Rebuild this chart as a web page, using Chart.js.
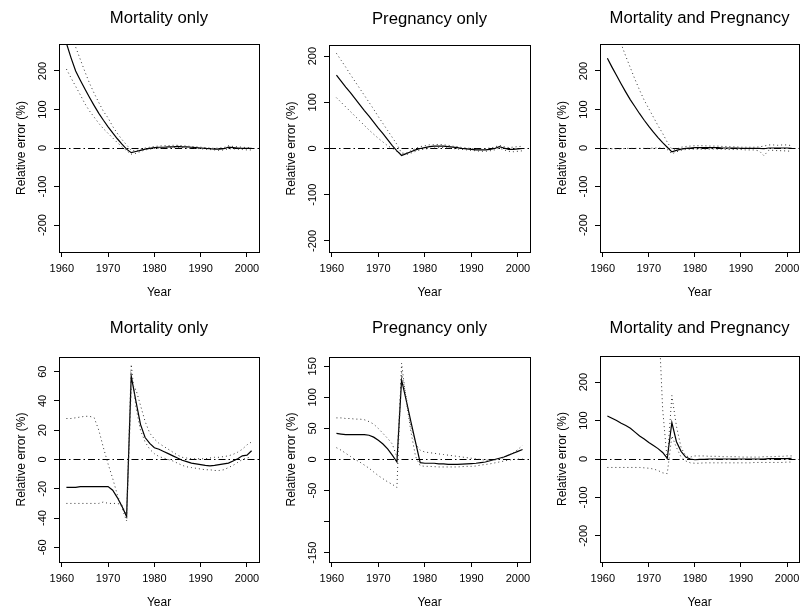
<!DOCTYPE html>
<html>
<head>
<meta charset="utf-8">
<script src="https://cdn.jsdelivr.net/npm/chart.js@4.4.0/dist/chart.umd.min.js"></script>
<style>
  html, body { margin: 0; padding: 0; background: #fff; width: 800px; height: 611px; overflow: hidden; }
  .pane { position: absolute; }
</style>
</head>
<body>
<script>
// years of the series
const years = [1961,1962,1963,1964,1965,1966,1967,1968,1969,1970,
               1971,1972,1973,1974,1975,1976,1977,1978,1979,1980,
               1981,1982,1983,1984,1985,1986,1987,1988,1989,1990,
               1991,1992,1993,1994,1995,1996,1997,1998,1999,2000,2001];

const titles = ['Mortality only', 'Pregnancy only', 'Mortality and Pregnancy',
                'Mortality only', 'Pregnancy only', 'Mortality and Pregnancy'];

// solid line (estimate)
const main1 = [272,234,200,176,153,131,110,90,72,55, 39,24,10,-3,-12,-9,-6,-3,-1,1, 2,2,3,3,4,3,3,2,1,0, -1,-2,-3,-3,-2,2,1,0,-1,-1, -1];
const main2 = [159,146,133,121,108,95,82,70,57,44, 32,19,6,-5,-15,-11,-7,-3,0,2, 4,5,5,5,4,3,2,0,-1,-2, -3,-3,-3,-2,0,4,1,-2,-2,-1, 0];
const main3 = [233,210,188,166,145,125,107,89,72,56, 41,27,14,2,-10,-6,-3,-1,0,1, 1,1,1,1,1,0,0,0,0,-1, -1,-1,-1,-1,-2,0,0,0,0,0, -1];
const main4 = [-19,-19,-19,-18.5,-18.5,-18.5,-18.5,-18.5,-18.5,-18.5, -21,-26,-32,-39,57,40,24,15,11,8, 7,5.5,4,2.5,1,-0.5,-1.5,-2.5,-3,-3.5, -4,-4.3,-4,-3.5,-3,-2.5,-1,0.5,2.5,3, 6];
const main5 = [42,41,40,40,40,40,40,39,36,31, 25,17,7,-4,128,95,61,28,-5,-6, -6,-6,-7,-7,-8,-8,-8,-7.5,-7,-6.5, -6,-5,-4,-2,0,2,4,7,10,13, 16];
const main6 = [112,106,100,93,87,80,70,60,52,43, 35,27,17,2,95,45,20,5,0,-2, -1,-1,0,0,0,0,0,0,0,0, 0,0,0,0,0,1,1,1,1,1, 2];

// upper dotted band
const upper1 = [330,290,262,230,198,168,142,118,95,78, 56,38,22,8,-6,-8,-3,0,2,4, 5,6,6,7,7,6,5,4,3,2, 1,0,-1,0,1,6,4,3,2,1, 1];
const upper2 = [206,191,176,160,145,130,115,100,85,69, 54,39,24,9,-10,-10,-5,0,4,6, 8,8,9,8,7,5,4,2,1,0, -1,-1,0,1,3,7,4,2,3,4, 5];
const upper3 = [370,335,302,270,238,208,178,150,124,102, 80,58,38,15,-3,-3,2,4,5,6, 6,6,5,5,5,4,4,3,3,2, 2,2,2,3,5,8,8,7,8,8, 6];
const upper4 = [28,28,28.5,29,29.5,29.5,28.5,20,8,-3, -13,-24,-33,-42,48,48,37,26,18,14, 11,9,7,5,3,1.5,1,0.5,0.5,0.5, 0.5,1,1.5,1.5,2,2.5,3.5,5,7,10, 12];
const upper5 = [67,67,66,66,65,65,64,61,57,50, 42,34,25,4,140,100,52,25,15,12, 11,10,9,8,7,6,5,4,3,2, 1,0,-1,-1.5,-1,1,3,7,11,16, 23];
const upper6 = [900,860,820,780,740,700,660,620,580,520, 470,400,130,-5,165,85,30,8,5,8, 8,8,7,7,7,6,6,6,6,5, 5,5,5,5,6,6,6,7,7,8, 8];

// lower dotted band
const lower1 = [205,182,160,138,115,96,80,64,50,38, 26,14,3,-7,-16,-14,-9,-5,-3,-1, 0,0,1,1,1,1,0,0,-1,-2, -3,-4,-5,-6,-5,-2,-2,-3,-4,-5, -5];
const lower2 = [110,100,90,80,70,60,50,40,31,22, 14,6,0,-6,-12,-13,-10,-6,-3,-1, 0,1,2,2,1,0,-1,-2,-3,-4, -5,-6,-6,-5,-3,1,-3,-6,-7,-6, -5];
const lower3 = [-2,-2,-2,-2,-1,-1,-1,-1,-1,-1, 0,0,0,-4,-15,-10,-6,-4,-3,-3, -3,-3,-3,-3,-3,-3,-4,-4,-4,-4, -5,-5,-5,-8,-20,-6,-6,-7,-7,-8, -8];
const lower4 = [-30,-30,-30,-30,-30,-30,-30,-30,-29,-30, -30,-30,-31,-38,65,36,20,12,7,4, 2,1,0,-1,-2.5,-4,-5,-5.5,-6,-6.5, -7,-7,-7.5,-7.5,-7,-5.5,-4,-2,0,1, 2];
const lower5 = [19,15,10,5,0,-4,-9,-14,-20,-26, -31,-36,-40,-45,155,95,45,5,-10,-11, -11,-11.5,-12,-12,-12,-12,-12,-11.5,-11,-11, -10.5,-9,-8,-7,-5.5,-4,-2.5,-1,0,0.5, 1];
const lower6 = [-22,-22,-22,-22,-22,-22,-22,-22,-23,-24, -26,-30,-36,-38,60,30,5,-5,-10,-11, -11,-10,-10,-10,-10,-10,-10,-10,-10,-10, -10,-10,-9,-9,-9,-9,-9,-9,-9,-8, -8];

const mains = [main1, main2, main3, main4, main5, main6];
const uppers = [upper1, upper2, upper3, upper4, upper5, upper6];
const lowers = [lower1, lower2, lower3, lower4, lower5, lower6];

// axis limits and tick labels
const xMin = 1959.4, xMax = 2002.6;
const xTicks = [1960, 1970, 1980, 1990, 2000];
const yLimits = [270, 224, 270, 70, 165, 268];
const yTicks1 = [-200, -100, 0, 100, 200];
const yTicks4 = [-60, -40, -20, 0, 20, 40, 60];
const yTicks5 = [-150, -100, -50, 0, 50, 100, 150];
const yTicks = [yTicks1, yTicks1, yTicks1, yTicks4, yTicks5, yTicks1];
const hiddenYLabels = [[], [], [], [], [-100], []];
const refValue = 0;

// plot boxes in the page
const panels = [
  {x: 59,  y: 44,  w: 200, h: 208, gap: 25.5},
  {x: 329, y: 45,  w: 201, h: 207, gap: 26},
  {x: 600, y: 44,  w: 199, h: 208, gap: 25.5},
  {x: 59,  y: 357, w: 200, h: 205, gap: 28.5},
  {x: 329, y: 357, w: 201, h: 205, gap: 28.5},
  {x: 600, y: 356, w: 199, h: 206, gap: 28}
];

const FONT = '"Liberation Sans", Arial, Helvetica, sans-serif';
const TITLE_SIZE = 16.7;
const L = 60, T = 45, R = 6, B = 60;

const boxPlugin = {
  id: 'box',
  afterDraw(chart) {
    const {ctx, chartArea: a} = chart;
    const al = v => Math.round(v - 0.5) + 0.5;
    ctx.save();
    ctx.strokeStyle = '#000';
    ctx.lineWidth = 1;
    ctx.strokeRect(al(a.left), al(a.top), al(a.right) - al(a.left), al(a.bottom) - al(a.top));
    ctx.restore();
  }
};

const refLinePlugin = {
  id: 'refLine',
  beforeDatasetsDraw(chart) {
    const {ctx, chartArea: a, scales} = chart;
    const y = Math.round(scales.y.getPixelForValue(refValue) - 0.5) + 0.5;
    ctx.save();
    ctx.strokeStyle = '#000';
    ctx.lineWidth = 1;
    ctx.setLineDash([7, 3, 1.5, 3]);
    ctx.beginPath();
    ctx.moveTo(a.left, y);
    ctx.lineTo(a.right, y);
    ctx.stroke();
    ctx.restore();
  }
};

const measure = document.createElement('canvas').getContext('2d');
measure.font = '11px ' + FONT;

function series(vals) {
  return years.map((yr, k) => ({x: yr, y: vals[k]}));
}

panels.forEach((p, i) => {
  const cw = L + p.w + R, chh = T + p.h + B;
  const div = document.createElement('div');
  div.className = 'pane';
  div.style.left = (p.x - L) + 'px';
  div.style.top = (p.y - T) + 'px';
  div.style.width = cw + 'px';
  div.style.height = chh + 'px';
  const cv = document.createElement('canvas');
  cv.width = cw;
  cv.height = chh;
  div.appendChild(cv);
  document.body.appendChild(div);

  const lim = yLimits[i];
  // widest y label, to centre the rotated labels 16.5px left of the axis
  let widest = 0;
  yTicks[i].forEach(v => { widest = Math.max(widest, measure.measureText(String(v)).width); });
  const yPad = 11.5 - widest / 2;

  const dotted = {borderColor: '#333', borderWidth: 1, borderDash: [1, 3], pointRadius: 0, tension: 0, fill: false};
  const half = TITLE_SIZE * 1.2 / 2;

  new Chart(cv.getContext('2d'), {
    type: 'line',
    data: {
      datasets: [
        Object.assign({data: series(uppers[i])}, dotted),
        Object.assign({data: series(lowers[i])}, dotted),
        {data: series(mains[i]), borderColor: '#000', borderWidth: 1.2, pointRadius: 0, tension: 0, fill: false}
      ]
    },
    options: {
      responsive: false,
      animation: false,
      devicePixelRatio: 1,
      layout: {padding: {left: 0, top: 0, right: R, bottom: 0}},
      plugins: {
        legend: {display: false},
        tooltip: {enabled: false},
        title: {
          display: true, text: titles[i], fullSize: false, color: '#000',
          font: {family: FONT, size: TITLE_SIZE, weight: 'normal'},
          padding: {top: T - p.gap - half, bottom: p.gap - half}
        }
      },
      scales: {
        x: {
          type: 'linear', min: xMin, max: xMax,
          afterBuildTicks: s => { s.ticks = xTicks.map(v => ({value: v})); },
          afterFit: s => { s.height = B; },
          border: {display: true, color: '#000', width: 1},
          grid: {display: true, drawOnChartArea: false, drawTicks: true, tickLength: 5, color: '#000'},
          ticks: {maxRotation: 0, autoSkip: false, padding: 5,
                  color: '#000', font: {family: FONT, size: 11}, callback: v => String(v)},
          title: {display: true, text: 'Year', color: '#000', font: {family: FONT, size: 12},
                  padding: {top: 0, bottom: B - 48.2}}
        },
        y: {
          type: 'linear', min: -lim, max: lim,
          afterBuildTicks: s => { s.ticks = yTicks[i].map(v => ({value: v})); },
          afterFit: s => { s.width = L; },
          border: {display: true, color: '#000', width: 1},
          grid: {display: true, drawOnChartArea: false, drawTicks: true, tickLength: 5, color: '#000'},
          ticks: {minRotation: 90, maxRotation: 90, crossAlign: 'center',
                  padding: yPad, autoSkip: false, color: '#000', font: {family: FONT, size: 11},
                  callback: v => hiddenYLabels[i].includes(v) ? '' : String(v)},
          title: {display: true, text: 'Relative error (%)', color: '#000', font: {family: FONT, size: 12},
                  padding: {top: L - 37.5 - 7.2, bottom: 0}}
        }
      }
    },
    plugins: [refLinePlugin, boxPlugin]
  });
});
</script>
</body>
</html>
